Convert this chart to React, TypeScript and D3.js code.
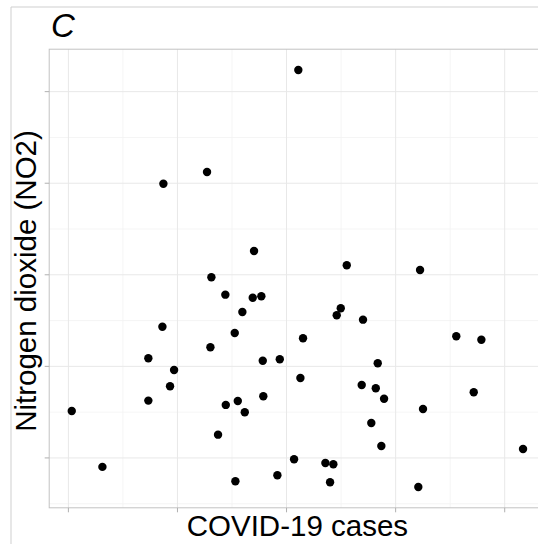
import React from "react";
import * as d3 from "d3";

// COVID-19 cases (x) and NO2 (y)
const covidCases: number[] = [
  3108, 2271, 1871, 2702, 3552, 4224, 2311, 2439, 2690, 2769,
  2595, 1862, 2525, 2302, 1733, 2782, 1969, 1932, 1733, 2553,
  2787, 2443, 2617, 1031, 2372, 1312, 2531, 3497, 3460, 3701,
  3151, 4556, 4786, 2938, 3836, 3127, 3689, 3818, 4716, 3894,
  4251, 3777, 3869, 5168, 3069, 3356, 3429, 2916, 3399, 4208,
];
const no2Values: number[] = [
  52.36, 41.22, 39.95, 32.6, 31.04, 30.52, 29.73, 27.83, 27.5, 27.65,
  25.94, 24.33, 23.65, 22.09, 20.88, 20.62, 19.61, 17.83, 16.26, 16.22,
  16.74, 15.79, 14.99, 15.13, 12.54, 9.02, 7.46, 26.34, 25.58, 25.1,
  23.07, 23.29, 22.91, 20.78, 20.34, 18.73, 17.97, 17.61, 17.17, 16.47,
  15.35, 13.82, 11.31, 10.98, 9.86, 9.45, 9.31, 8.11, 7.35, 6.83,
];
const xTicks: number[] = [1000, 2000, 3000, 4000, 5000];
const yTicks: number[] = [10, 20, 30, 40, 50];
const panelTag = "C";
const xTitle = "COVID-19 cases";
const yTitle = "Nitrogen dioxide (NO2)";

const W = 538;
const H = 544;
const left = 49.2;
const right = 545.6;
const top = 49.2;
const bottom = 507.8;

function expand(ext: [number, number]): [number, number] {
  const r = ext[1] - ext[0];
  return [ext[0] - r * 0.05, ext[1] + r * 0.05];
}

function minorsFrom(ticks: number[]): number[] {
  const step = ticks[1] - ticks[0];
  const out: number[] = [];
  out.push(ticks[0] - step / 2);
  ticks.forEach((t) => out.push(t + step / 2));
  return out;
}

export default function App() {
  const x = d3
    .scaleLinear()
    .domain(expand(d3.extent(covidCases) as [number, number]))
    .range([left, right]);
  const y = d3
    .scaleLinear()
    .domain(expand(d3.extent(no2Values) as [number, number]))
    .range([bottom, top]);
  const [x0, x1] = x.domain();
  const [y0, y1] = y.domain();
  const xMinor = minorsFrom(xTicks).filter((v) => v > x0 && v < x1);
  const yMinor = minorsFrom(yTicks).filter((v) => v > y0 && v < y1);
  const font = "'Liberation Sans', Arial, Helvetica, sans-serif";
  const points = covidCases.map((c, i) => [c, no2Values[i]]);

  return (
    <svg
      width={W}
      height={H}
      style={{ position: "absolute", left: 0, top: 0, background: "#fff" }}
    >
      <rect x={0} y={0} width={W} height={H} fill="#fff" />
      {/* outer frame */}
      <line x1={11} x2={W} y1={7} y2={7} stroke="#cfcfcf" strokeWidth={1} />
      <line x1={11} x2={11} y1={7} y2={H} stroke="#cfcfcf" strokeWidth={1} />

      <rect x={left} y={top} width={right - left} height={bottom - top} fill="#fff" />
      {xMinor.map((v) => (
        <line key={"xm" + v} x1={x(v)} x2={x(v)} y1={top} y2={bottom} stroke="#f3f3f3" strokeWidth={0.8} />
      ))}
      {yMinor.map((v) => (
        <line key={"ym" + v} y1={y(v)} y2={y(v)} x1={left} x2={right} stroke="#f3f3f3" strokeWidth={0.8} />
      ))}
      {xTicks.map((v) => (
        <line key={"xg" + v} x1={x(v)} x2={x(v)} y1={top} y2={bottom} stroke="#e8e8e8" strokeWidth={1} />
      ))}
      {yTicks.map((v) => (
        <line key={"yg" + v} y1={y(v)} y2={y(v)} x1={left} x2={right} stroke="#e8e8e8" strokeWidth={1} />
      ))}
      <rect
        x={left}
        y={top}
        width={right - left}
        height={bottom - top}
        fill="none"
        stroke="#c2c2c2"
        strokeWidth={1}
      />
      {/* ticks */}
      {xTicks.map((v) => (
        <line key={"xt" + v} x1={x(v)} x2={x(v)} y1={bottom} y2={bottom + 4.5} stroke="#b0b0b0" strokeWidth={1} />
      ))}
      {yTicks.map((v) => (
        <line key={"yt" + v} y1={y(v)} y2={y(v)} x1={left - 4.5} x2={left} stroke="#b0b0b0" strokeWidth={1} />
      ))}
      {points.map(([c, v], i) => (
        <circle key={i} cx={x(c)} cy={y(v)} r={4.2} fill="#000" />
      ))}
      <text
        x={(left + right) / 2}
        y={535.5}
        textAnchor="middle"
        fontFamily={font}
        fontSize={29.5}
        fill="#000"
      >
        {xTitle}
      </text>
      <text
        transform={`translate(36,281) rotate(-90)`}
        textAnchor="middle"
        fontFamily={font}
        fontSize={29.5}
        fill="#000"
      >
        {yTitle}
      </text>
      <text x={51} y={37} fontFamily={font} fontStyle="italic" fontSize={33} fill="#000">
        {panelTag}
      </text>
    </svg>
  );
}
